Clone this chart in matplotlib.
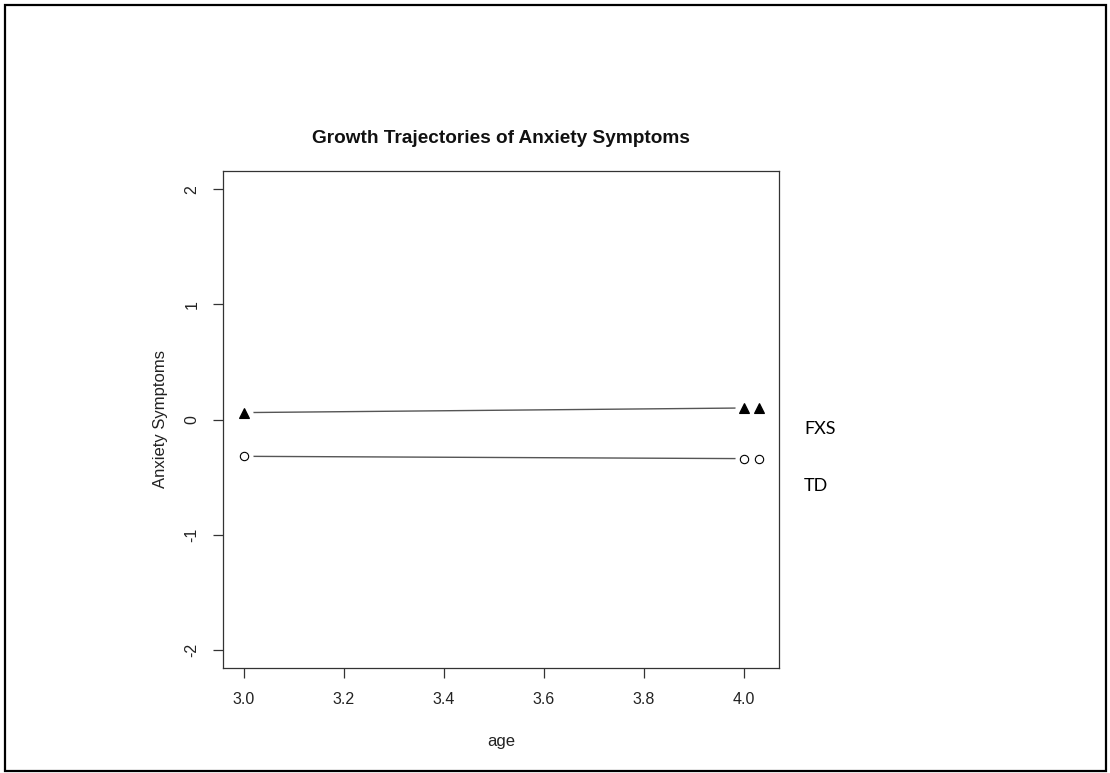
import matplotlib
matplotlib.use('Agg')
import matplotlib.pyplot as plt
from matplotlib.patches import Rectangle

# predicted trajectories (age 3 -> 4)
ages = [3.0, 4.0]
fxs_pred = [0.06, 0.10]
td_pred = [-0.32, -0.34]

# extra points drawn just right of age 4
extra_age = [4.03]
fxs_extra = [0.10]
td_extra = [-0.34]

x_ticks = [3.0, 3.2, 3.4, 3.6, 3.8, 4.0]
x_tick_labels = ['3.0', '3.2', '3.4', '3.6', '3.8', '4.0']
y_ticks = [-2, -1, 0, 1, 2]
y_tick_labels = ['-2', '-1', '0', '1', '2']

group_labels = ['FXS', 'TD']
group_label_y = [-0.08, -0.58]

plt.rcParams['font.family'] = ['Liberation Sans', 'DejaVu Sans']

W, H = 1110, 773
fig = plt.figure(figsize=(W / 100, H / 100), dpi=100)

# outer frame around the whole picture
fig.patches.append(Rectangle((5 / W, 2 / H), 1101 / W, 766 / H,
                             transform=fig.transFigure, fill=False,
                             edgecolor='black', linewidth=1.6))

ax = fig.add_axes([223 / W, (H - 668) / H, (779 - 223) / W, (668 - 171) / H])

# lines (gray), with white halos under the markers to mimic R type="b" gaps
ax.plot(ages, fxs_pred, color='#555555', linewidth=1.0, zorder=2)
ax.plot(ages, td_pred, color='#555555', linewidth=1.0, zorder=2)
ax.plot(ages, fxs_pred, linestyle='none', marker='o', ms=13,
        mfc='white', mec='none', zorder=3)
ax.plot(ages, td_pred, linestyle='none', marker='o', ms=13,
        mfc='white', mec='none', zorder=3)

ax.plot(ages + extra_age, fxs_pred + fxs_extra, linestyle='none', marker='^',
        ms=6.5, mfc='black', mec='black', mew=0.8, zorder=4)
ax.plot(ages + extra_age, td_pred + td_extra, linestyle='none', marker='o',
        ms=6, mfc='white', mec='black', mew=0.8, zorder=4)

ax.set_xlim(2.959, 4.071)
ax.set_ylim(-2.16, 2.16)

ax.set_xticks(x_ticks)
ax.set_xticklabels(x_tick_labels)
ax.set_yticks(y_ticks)
ax.set_yticklabels(y_tick_labels, rotation=90, va='center')

for s in ax.spines.values():
    s.set_color('#333333')
    s.set_linewidth(0.9)
ax.tick_params(direction='out', length=7, width=0.9, color='#333333',
               labelsize=11.5, labelcolor='#222222', pad=10)

ax.set_title('Growth Trajectories of Anxiety Symptoms', fontsize=13.7,
             fontweight='bold', pad=20, color='#111111')
ax.set_xlabel('age', fontsize=12, labelpad=20, color='#222222')
ax.set_ylabel('Anxiety Symptoms', fontsize=12, labelpad=12, color='#222222')

# group labels to the right of the plot
for lab, yv in zip(group_labels, group_label_y):
    ax.text(1.045, yv, lab, transform=ax.get_yaxis_transform(),
            fontsize=13, family=['Lato', 'DejaVu Sans'],
            va='center', ha='left')

fig.savefig('out.png', dpi=100)
